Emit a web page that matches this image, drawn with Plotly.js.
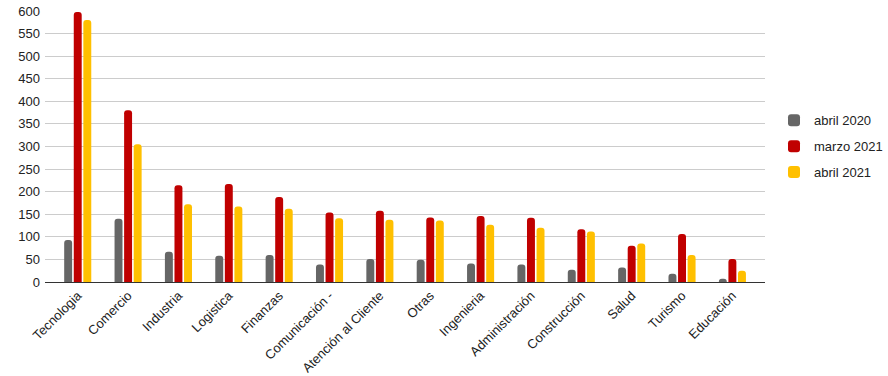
<!DOCTYPE html>
<html>
<head>
<meta charset="utf-8">
<script src="https://cdn.plot.ly/plotly-3.0.1.min.js"></script>
<style>html,body{margin:0;padding:0;background:#fff;}#chart{width:888px;height:376px;}</style>
</head>
<body>
<div id="chart"></div>
<script>
const categories = ["Tecnologia", "Comercio", "Industria", "Logistica", "Finanzas", "Comunicación -", "Atención al Cliente", "Otras", "Ingenieria", "Administración", "Construcción", "Salud", "Turismo", "Educación"];
const abril2020 = [93, 140, 67, 58, 60, 39, 51, 49, 41, 39, 27, 32, 18, 7];
const marzo2021 = [598, 380, 214, 217, 188, 154, 158, 143, 146, 142, 117, 80, 106, 51];
const abril2021 = [580, 305, 172, 167, 162, 141, 138, 136, 127, 120, 112, 85, 60, 25];
const seriesNames = ["abril 2020", "marzo 2021", "abril 2021"];
const yTicks = [0, 50, 100, 150, 200, 250, 300, 350, 400, 450, 500, 550, 600];

const colors = ["#666666", "#c00000", "#ffc000"];
const data = [abril2020, marzo2021, abril2021].map((vals, i) => ({
  type: "bar",
  x: categories,
  y: vals,
  name: seriesNames[i],
  legendgroup: "g" + i,
  marker: { color: colors[i], cornerradius: 3 },
  hoverinfo: "none"
}));

const layout = {
  width: 888, height: 376,
  margin: { l: 45, r: 0, t: 11, b: 94 },
  paper_bgcolor: "#fff", plot_bgcolor: "#fff",
  font: { family: "Liberation Sans, Arial, sans-serif", size: 13, color: "#222" },
  barmode: "group",
  bargap: 0.43,
  bargroupgap: 0.17,
  xaxis: {
    type: "category",
    domain: [0, 0.875],
    automargin: false,
    range: [-0.65, 13.65],
    tickangle: -45,
    showgrid: false,
    showline: true, linecolor: "#333", linewidth: 1,
    ticks: "", tickfont: { size: 13, color: "#222" },
    fixedrange: true
  },
  yaxis: {
    range: [0, 600],
    tickvals: yTicks,
    automargin: false,
    showgrid: true, gridcolor: "#cccccc", gridwidth: 1,
    zeroline: false,
    ticks: "", tickfont: { size: 13, color: "#222" },
    ticklabelstandoff: 4,
    fixedrange: true
  },
  showlegend: true,
  legend: {
    x: 0.886, y: 0.652, xanchor: "left", yanchor: "top",
    font: { size: 13, color: "#222" },
    traceorder: "grouped",
    tracegroupgap: 6, itemwidth: 30
  }
};

Plotly.newPlot("chart", data, layout, { displayModeBar: false, staticPlot: true });
</script>
</body>
</html>
